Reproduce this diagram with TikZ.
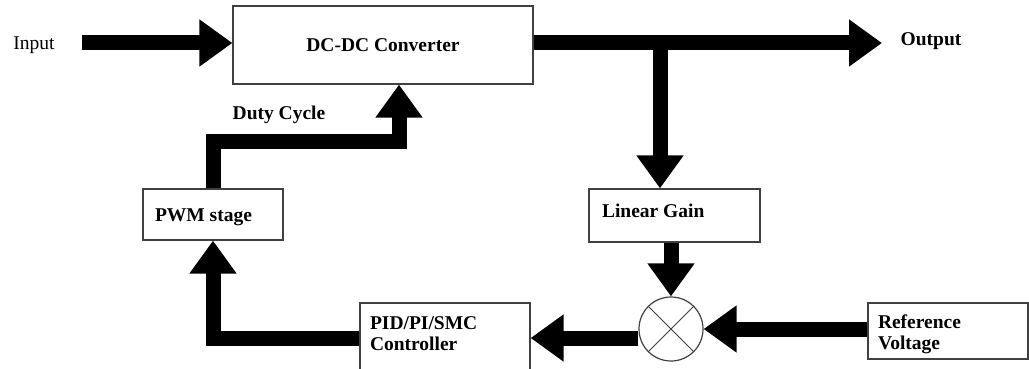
\documentclass[tikz,border=0pt]{standalone}
\usepackage{fontspec}
\setmainfont{Liberation Serif}
\usetikzlibrary{arrows.meta,positioning}

\begin{document}
\begin{tikzpicture}[
    x=1pt, y=-1pt,
    font=\fontsize{19.5}{21}\selectfont\bfseries,
    block/.style={rectangle,draw=black!75,line width=1.2pt,align=flush left,inner xsep=12pt},
    tag/.style={inner sep=0pt},
    junction/.style={circle,draw=black!75,line width=1.2pt,minimum size=64pt,
        path picture={\draw[line width=0.8pt]
            (path picture bounding box.north west) -- (path picture bounding box.south east)
            (path picture bounding box.north east) -- (path picture bounding box.south west);}},
    flow/.style={draw,line width=15pt,-{Triangle[length=33pt,width=45pt]}}]

    \useasboundingbox (0,0) rectangle (1029,369);

    % Plant
    \node[tag, font=\fontsize{19.5}{21}\selectfont] (input) at (34,45) {Input};
    \node[block, minimum width=300pt, minimum height=78pt, align=center] (conv) at (383,45) {DC-DC Converter};
    \node[tag] (output) at (931,41) {Output};

    % Feedback path
    \node[block, text width=145pt, inner xsep=13pt, minimum height=53pt,
        text height=13pt, text depth=9pt] (gain) at (674.5,215.5) {Linear Gain};
    \node[junction] (sum) at (671,329) {};
    \node[block, text width=140pt, inner xsep=10pt, minimum height=56pt,
        text height=20pt, text depth=25pt] (ref) at (948,331) {Reference\\Voltage};
    \node[block, text width=150pt, inner xsep=10pt, minimum height=70pt,
        text height=13pt, text depth=31pt] (ctrl) at (445,338) {PID/PI/SMC\\Controller};
    \node[block, text width=116pt, minimum height=51pt,
        text height=18pt, text depth=4pt] (pwm) at (213,214.5) {PWM stage};
    \node[tag] (duty) at (279,115) {Duty Cycle};

    \coordinate (inp) at (82,43);
    \coordinate (outp) at (882,43);
    \coordinate (tap) at (660,43);
    \coordinate (bend) at (399,141);

    % Connect blocks
    \path[flow] (inp) -- (inp -| conv.west);
    \path[flow] (inp -| conv.east) -- (outp);
    \path[flow] (tap) -- (tap |- gain.north);
    \path[flow] (gain.south -| sum.north) -- (sum.north);
    \path[flow] (ref.west |- sum.east) -- (sum.east);
    \path[flow] (ctrl.east -| sum.west) -- (ctrl.east);
    \path[flow] (ctrl.west) -| (pwm.south);
    \path[flow] (pwm.north) |- (bend) -- (bend |- conv.south);
\end{tikzpicture}
\end{document}
